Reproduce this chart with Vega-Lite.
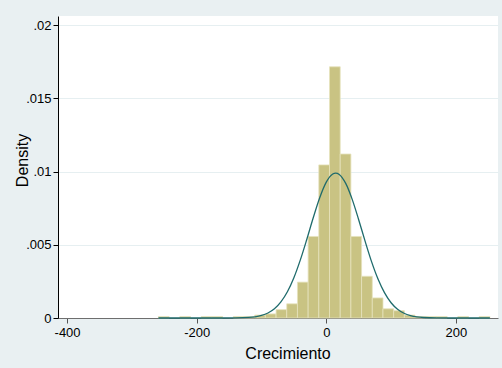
{
  "$schema": "https://vega.github.io/schema/vega-lite/v6.json",
  "width": 440,
  "height": 302,
  "autosize": {"type": "none"},
  "padding": {"left": 58, "top": 16, "right": 4, "bottom": 50},
  "background": "#e9f0f2",
  "config": {
    "view": {"fill": "#ffffff", "stroke": null},
    "font": "Liberation Sans"
  },
  "datasets": {
    "bins": [
      {"lo": -259, "hi": -242.5, "density": 0.0001},
      {"lo": -226, "hi": -209.5, "density": 0.0001},
      {"lo": -193, "hi": -176.5, "density": 0.0001},
      {"lo": -176.5, "hi": -160, "density": 0.0001},
      {"lo": -143.5, "hi": -127, "density": 0.0001},
      {"lo": -127, "hi": -110.5, "density": 0.0001},
      {"lo": -110.5, "hi": -94, "density": 0.0002},
      {"lo": -94, "hi": -77.5, "density": 0.00028},
      {"lo": -77.5, "hi": -61, "density": 0.00057},
      {"lo": -61, "hi": -44.5, "density": 0.00097},
      {"lo": -44.5, "hi": -28, "density": 0.00245},
      {"lo": -28, "hi": -11.5, "density": 0.00557},
      {"lo": -11.5, "hi": 5, "density": 0.01046},
      {"lo": 5, "hi": 21.5, "density": 0.01716},
      {"lo": 21.5, "hi": 38, "density": 0.0112},
      {"lo": 38, "hi": 54.5, "density": 0.00557},
      {"lo": 54.5, "hi": 71, "density": 0.00285},
      {"lo": 71, "hi": 87.5, "density": 0.00137},
      {"lo": 87.5, "hi": 104, "density": 0.00063},
      {"lo": 104, "hi": 120.5, "density": 0.0005},
      {"lo": 120.5, "hi": 137, "density": 0.0002},
      {"lo": 137, "hi": 153.5, "density": 0.0001},
      {"lo": 153.5, "hi": 170, "density": 0.0001},
      {"lo": 170, "hi": 186.5, "density": 0.0001},
      {"lo": 203, "hi": 219.5, "density": 0.0001},
      {"lo": 236, "hi": 252.5, "density": 0.0001}
    ],
    "normal": [
      {"x": -259, "y": 0},
      {"x": -200, "y": 0.0000007},
      {"x": -160, "y": 0.0000008},
      {"x": -140, "y": 0.0000064},
      {"x": -120, "y": 0.0000377},
      {"x": -110, "y": 0.000084},
      {"x": -100, "y": 0.000175},
      {"x": -90, "y": 0.000343},
      {"x": -80, "y": 0.000633},
      {"x": -70, "y": 0.001099},
      {"x": -60, "y": 0.001792},
      {"x": -50, "y": 0.00275},
      {"x": -40, "y": 0.003969},
      {"x": -30, "y": 0.005381},
      {"x": -20, "y": 0.006863},
      {"x": -10, "y": 0.00823},
      {"x": 0, "y": 0.009279},
      {"x": 10, "y": 0.009839},
      {"x": 14.5, "y": 0.0099},
      {"x": 20, "y": 0.009808},
      {"x": 30, "y": 0.009194},
      {"x": 40, "y": 0.008104},
      {"x": 50, "y": 0.006716},
      {"x": 60, "y": 0.005234},
      {"x": 70, "y": 0.003834},
      {"x": 80, "y": 0.002642},
      {"x": 90, "y": 0.001712},
      {"x": 100, "y": 0.001043},
      {"x": 110, "y": 0.000597},
      {"x": 120, "y": 0.000322},
      {"x": 130, "y": 0.000163},
      {"x": 140, "y": 0.000078},
      {"x": 150, "y": 0.000035},
      {"x": 170, "y": 0.0000058},
      {"x": 200, "y": 0.0000001},
      {"x": 252.5, "y": 0}
    ]
  },
  "layer": [
    {
      "data": {"name": "bins"},
      "mark": {"type": "rect", "fill": "#c9c383", "stroke": "#e6e2bd", "strokeWidth": 0.8},
      "encoding": {
        "x": {
          "field": "lo", "type": "quantitative",
          "scale": {"domain": [-414, 265], "nice": false, "zero": false},
          "axis": {
            "values": [-400, -200, 0, 200],
            "labelExpr": "datum.value < 0 ? '-' + format(-datum.value, 'd') : format(datum.value, 'd')",
            "title": "Crecimiento",
            "titleFont": "Liberation Sans", "titleFontSize": 16, "titleFontWeight": "normal", "titleColor": "#000000",
            "titleX": 229.5, "titleY": 40, "titleBaseline": "alphabetic", "titleAlign": "center",
            "labelFont": "Liberation Sans", "labelFontSize": 13, "labelColor": "#000000",
            "labelPadding": 3,
            "tickSize": 5, "tickColor": "#555555",
            "domainColor": "#6e6e6e", "domainWidth": 1.2,
            "grid": false
          }
        },
        "x2": {"field": "hi"},
        "y": {
          "field": "density", "type": "quantitative",
          "scale": {"domain": [0, 0.02063], "nice": false},
          "axis": {
            "values": [0, 0.005, 0.01, 0.015, 0.02],
            "labelExpr": "datum.value == 0 ? '0' : slice(format(datum.value, '.3~f'), 1)",
            "title": "Density",
            "titleFont": "Liberation Sans", "titleFontSize": 16, "titleFontWeight": "normal", "titleColor": "#000000",
            "titleX": -31, "titleY": 144, "titleBaseline": "alphabetic", "titleAlign": "center", "titleAngle": -90,
            "labelFont": "Liberation Sans", "labelFontSize": 13, "labelColor": "#000000",
            "labelPadding": 2,
            "tickSize": 5, "tickColor": "#000000",
            "domainColor": "#000000", "domainWidth": 1,
            "grid": true, "gridColor": "#e6eff1", "gridWidth": 1.2
          }
        },
        "y2": {"datum": 0}
      }
    },
    {
      "data": {"name": "normal"},
      "mark": {"type": "line", "color": "#1f6b6c", "strokeWidth": 1.3, "interpolate": "monotone"},
      "encoding": {
        "x": {"field": "x", "type": "quantitative"},
        "y": {"field": "y", "type": "quantitative"}
      }
    }
  ]
}
